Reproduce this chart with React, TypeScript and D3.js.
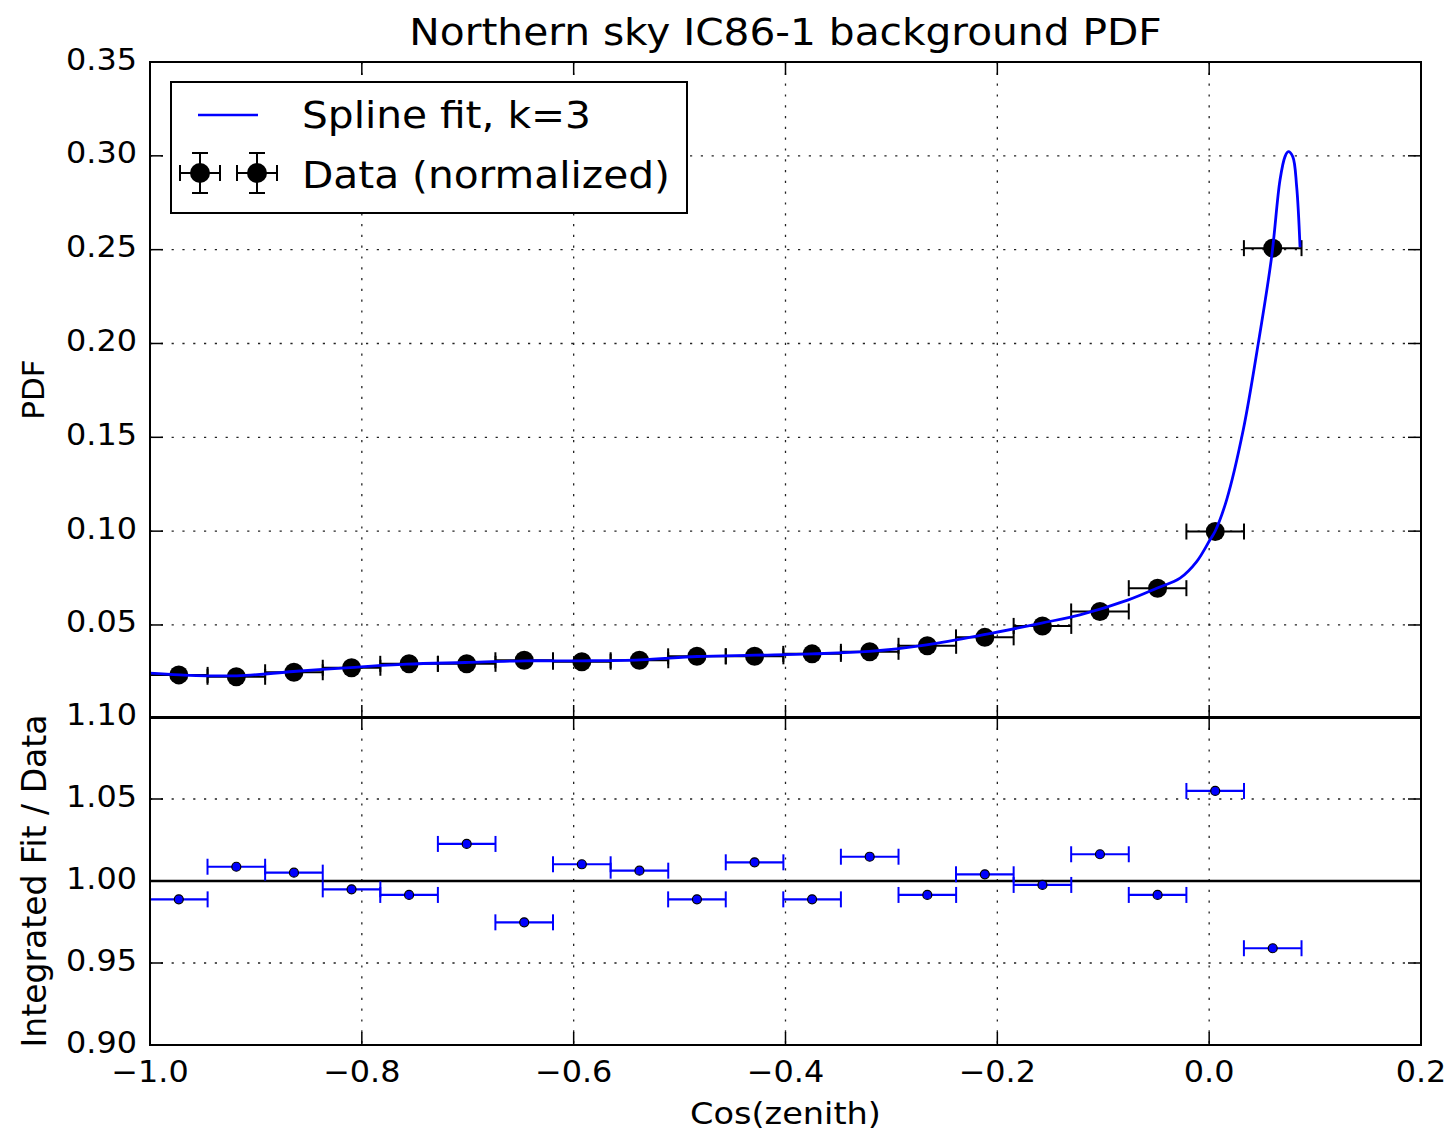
import React from 'react';
import * as d3 from 'd3';

// ---- data ----
const binCenters = [
  -0.9728, -0.9185, -0.8641, -0.8097, -0.7554, -0.7010, -0.6467, -0.5923, -0.5379, -0.4836,
  -0.4292, -0.3749, -0.3205, -0.2661, -0.2118, -0.1574, -0.1031, -0.0487, 0.0057, 0.0600,
];
const binHalfWidth = 0.0272;
const pdfValues = [
  0.0234, 0.0224, 0.0248, 0.0272, 0.0293, 0.0293, 0.0312, 0.0304, 0.0312, 0.0333,
  0.0333, 0.0346, 0.0357, 0.0389, 0.0434, 0.0495, 0.0572, 0.0696, 0.0998, 0.2508,
];
const ratioValues = [
  0.9888, 1.0087, 1.0051, 0.9949, 0.9915, 1.0226, 0.9748, 1.0102, 1.0063, 0.9888,
  1.0114, 0.9888, 1.0148, 0.9915, 1.0041, 0.9976, 1.0163, 0.9915, 1.0549, 0.9590,
];
const splineX = [
  -1.0, -0.9717, -0.918, -0.8647, -0.811, -0.7576, -0.7025, -0.646, -0.5924, -0.537,
  -0.4833, -0.4288, -0.375, -0.3209, -0.2668, -0.2126, -0.1582, -0.122, -0.0763, -0.0495,
  -0.0275, -0.0118, 0.0008, 0.0055, 0.0165, 0.0322, 0.0464, 0.059, 0.0669, 0.0716,
  0.0747, 0.0789, 0.0826, 0.0858,
];
const splineY = [
  0.0243, 0.0234, 0.0229, 0.0252, 0.0273, 0.0291, 0.0300, 0.0309, 0.0309, 0.0314,
  0.0332, 0.0339, 0.0346, 0.0359, 0.0394, 0.0448, 0.0510, 0.0554, 0.0634, 0.0696,
  0.0750, 0.0838, 0.0954, 0.0998, 0.1167, 0.1540, 0.2002, 0.2463, 0.2872, 0.2996,
  0.3022, 0.2996, 0.2836, 0.2513,
];
const xTicks = [-1.0, -0.8, -0.6, -0.4, -0.2, 0.0, 0.2];
const xTickLabels = ['\u22121.0', '\u22120.8', '\u22120.6', '\u22120.4', '\u22120.2', '0.0', '0.2'];
const topYTicks = [0.05, 0.10, 0.15, 0.20, 0.25, 0.30, 0.35];
const topYTickLabels = ['0.05', '0.10', '0.15', '0.20', '0.25', '0.30', '0.35'];
const botYTicks = [0.90, 0.95, 1.00, 1.05, 1.10];
const botYTickLabels = ['0.90', '0.95', '1.00', '1.05', '1.10'];

const titleText = 'Northern sky IC86-1 background PDF';
const legendLabels = ['Spline fit, k=3', 'Data (normalized)'];

// ---- layout ----
const W = 1450;
const H = 1131;
const L = 150;
const R = 1421;
const TOP_T = 62;
const TOP_B = 718;
const BOT_T = 717;
const BOT_B = 1045;
const FONT = "'DejaVu Sans', 'Bitstream Vera Sans', sans-serif";
const BLUE = '#0000ff';

type TProps = {
  x: number; y: number; size: number; anchor?: string; sx?: number; rot?: number;
  children: React.ReactNode;
};
function T({ x, y, size, anchor = 'start', sx = 1, rot = 0, children }: TProps) {
  return (
    <text
      transform={`translate(${x},${y}) scale(${sx},1)${rot ? ` rotate(${rot})` : ''}`}
      fontSize={size}
      textAnchor={anchor}
      fontFamily={FONT}
      fill="#000"
    >
      {children}
    </text>
  );
}

export default function App() {
  const x = d3.scaleLinear().domain([-1.0, 0.2]).range([L, R]);
  const yTop = d3.scaleLinear().domain([0, 0.35]).range([718.8, TOP_T]);
  const yBot = d3.scaleLinear().domain([0.9, 1.1]).range([BOT_B, BOT_T]);

  const splinePts = splineX.map((v, i) => [v, splineY[i]] as [number, number]);
  const splinePath = d3
    .line<[number, number]>()
    .x((d) => x(d[0]))
    .y((d) => yTop(d[1]))
    .curve(d3.curveCatmullRom.alpha(0.5))(splinePts) as string;

  const grid = { stroke: '#222', strokeWidth: 1.3, strokeDasharray: '2.2,8.6' };
  const tickLen = 13;
  const cap = 8;

  return (
    <svg
      width={W}
      height={H}
      style={{ position: 'absolute', left: 0, top: 0, background: '#fff' }}
      xmlns="http://www.w3.org/2000/svg"
    >
      <rect x={0} y={0} width={W} height={H} fill="#fff" />

      {/* title */}
      <T x={(L + R) / 2} y={45} size={37} anchor="middle" sx={1.1}>{titleText}</T>

      {/* ---------- top panel ---------- */}
      <g>
        {xTicks.slice(1, -1).map((t) => (
          <line key={'tgx' + t} x1={x(t)} x2={x(t)} y1={TOP_T} y2={TOP_B} {...grid} />
        ))}
        {topYTicks.slice(0, -1).map((t) => (
          <line key={'tgy' + t} x1={L} x2={R} y1={yTop(t)} y2={yTop(t)} {...grid} />
        ))}
        {/* ticks */}
        {xTicks.map((t) => (
          <g key={'ttx' + t}>
            <line x1={x(t)} x2={x(t)} y1={TOP_T} y2={TOP_T + tickLen} stroke="#000" strokeWidth={1.5} />
            <line x1={x(t)} x2={x(t)} y1={TOP_B} y2={TOP_B - tickLen} stroke="#000" strokeWidth={1.5} />
          </g>
        ))}
        {topYTicks.map((t) => (
          <g key={'tty' + t}>
            <line x1={L} x2={L + tickLen} y1={yTop(t)} y2={yTop(t)} stroke="#000" strokeWidth={1.5} />
            <line x1={R} x2={R - tickLen} y1={yTop(t)} y2={yTop(t)} stroke="#000" strokeWidth={1.5} />
          </g>
        ))}
        {topYTicks.map((t, i) => (
          <T key={'tyl' + t} x={137} y={yTop(t) + 7.5} size={29.5} anchor="end" sx={1.08}>
            {topYTickLabels[i]}
          </T>
        ))}

        {/* data error bars + points */}
        {binCenters.map((c, i) => {
          const yy = yTop(pdfValues[i]);
          const x0 = x(c - binHalfWidth);
          const x1 = x(c + binHalfWidth);
          return (
            <g key={'pt' + i}>
              <line x1={x0} x2={x1} y1={yy} y2={yy} stroke="#000" strokeWidth={2} />
              <line x1={x0} x2={x0} y1={yy - cap} y2={yy + cap} stroke="#000" strokeWidth={2} />
              <line x1={x1} x2={x1} y1={yy - cap} y2={yy + cap} stroke="#000" strokeWidth={2} />
              <circle cx={x(c)} cy={yy} r={9.5} fill="#000" />
            </g>
          );
        })}

        {/* spline */}
        <path d={splinePath} fill="none" stroke={BLUE} strokeWidth={2.8} strokeLinejoin="round" />

        {/* frame */}
        <rect x={L} y={TOP_T} width={R - L} height={TOP_B - TOP_T} fill="none" stroke="#000" strokeWidth={2} />

        {/* legend */}
        <g>
          <rect x={171} y={82} width={516} height={131} fill="#fff" stroke="#000" strokeWidth={2} />
          <line x1={198} x2={258} y1={115} y2={115} stroke={BLUE} strokeWidth={2.6} />
          {[200, 257].map((mx) => (
            <g key={'lm' + mx}>
              <line x1={mx - 20} x2={mx + 20} y1={173} y2={173} stroke="#000" strokeWidth={2} />
              <line x1={mx} x2={mx} y1={153} y2={193} stroke="#000" strokeWidth={2} />
              <line x1={mx - 20} x2={mx - 20} y1={173 - cap} y2={173 + cap} stroke="#000" strokeWidth={2} />
              <line x1={mx + 20} x2={mx + 20} y1={173 - cap} y2={173 + cap} stroke="#000" strokeWidth={2} />
              <line x1={mx - cap} x2={mx + cap} y1={153} y2={153} stroke="#000" strokeWidth={2} />
              <line x1={mx - cap} x2={mx + cap} y1={193} y2={193} stroke="#000" strokeWidth={2} />
              <circle cx={mx} cy={173} r={10} fill="#000" />
            </g>
          ))}
          <T x={302} y={128} size={37} sx={1.1}>{legendLabels[0]}</T>
          <T x={302} y={188} size={37} sx={1.1}>{legendLabels[1]}</T>
        </g>
      </g>

      {/* ---------- bottom panel ---------- */}
      <g>
        {xTicks.slice(1, -1).map((t) => (
          <line key={'bgx' + t} x1={x(t)} x2={x(t)} y1={BOT_T} y2={BOT_B} {...grid} />
        ))}
        {botYTicks.slice(1, -1).map((t) => (
          <line key={'bgy' + t} x1={L} x2={R} y1={yBot(t)} y2={yBot(t)} {...grid} />
        ))}
        {/* reference line at 1 */}
        <line x1={L} x2={R} y1={yBot(1.0)} y2={yBot(1.0)} stroke="#000" strokeWidth={2.5} />

        {xTicks.map((t) => (
          <g key={'btx' + t}>
            <line x1={x(t)} x2={x(t)} y1={BOT_T} y2={BOT_T + tickLen} stroke="#000" strokeWidth={1.5} />
            <line x1={x(t)} x2={x(t)} y1={BOT_B} y2={BOT_B - tickLen} stroke="#000" strokeWidth={1.5} />
          </g>
        ))}
        {botYTicks.map((t) => (
          <g key={'bty' + t}>
            <line x1={L} x2={L + tickLen} y1={yBot(t)} y2={yBot(t)} stroke="#000" strokeWidth={1.5} />
            <line x1={R} x2={R - tickLen} y1={yBot(t)} y2={yBot(t)} stroke="#000" strokeWidth={1.5} />
          </g>
        ))}
        {botYTicks.map((t, i) => (
          <T key={'byl' + t} x={137} y={yBot(t) + 7.5} size={29.5} anchor="end" sx={1.08}>
            {botYTickLabels[i]}
          </T>
        ))}
        {xTicks.map((t, i) => (
          <T key={'bxl' + t} x={x(t)} y={1082} size={29.5} anchor="middle" sx={1.08}>
            {xTickLabels[i]}
          </T>
        ))}

        {binCenters.map((c, i) => {
          const yy = yBot(ratioValues[i]);
          const x0 = x(c - binHalfWidth);
          const x1 = x(c + binHalfWidth);
          return (
            <g key={'rt' + i}>
              <line x1={x0} x2={x1} y1={yy} y2={yy} stroke={BLUE} strokeWidth={2.2} />
              <line x1={x0} x2={x0} y1={yy - cap} y2={yy + cap} stroke={BLUE} strokeWidth={2} />
              <line x1={x1} x2={x1} y1={yy - cap} y2={yy + cap} stroke={BLUE} strokeWidth={2} />
              <circle cx={x(c)} cy={yy} r={4.5} fill={BLUE} stroke="#000" strokeWidth={1.2} />
            </g>
          );
        })}

        <rect x={L} y={BOT_T} width={R - L} height={BOT_B - BOT_T} fill="none" stroke="#000" strokeWidth={2} />
      </g>

      {/* axis labels */}
      <T x={(L + R) / 2} y={1124} size={30.5} anchor="middle" sx={1.1}>Cos(zenith)</T>
      <T x={44} y={(TOP_T + BOT_T) / 2} size={31} anchor="middle" rot={-90}>PDF</T>
      <T x={46} y={(BOT_T + BOT_B) / 2} size={33} anchor="middle" rot={-90}>Integrated Fit / Data</T>
    </svg>
  );
}
